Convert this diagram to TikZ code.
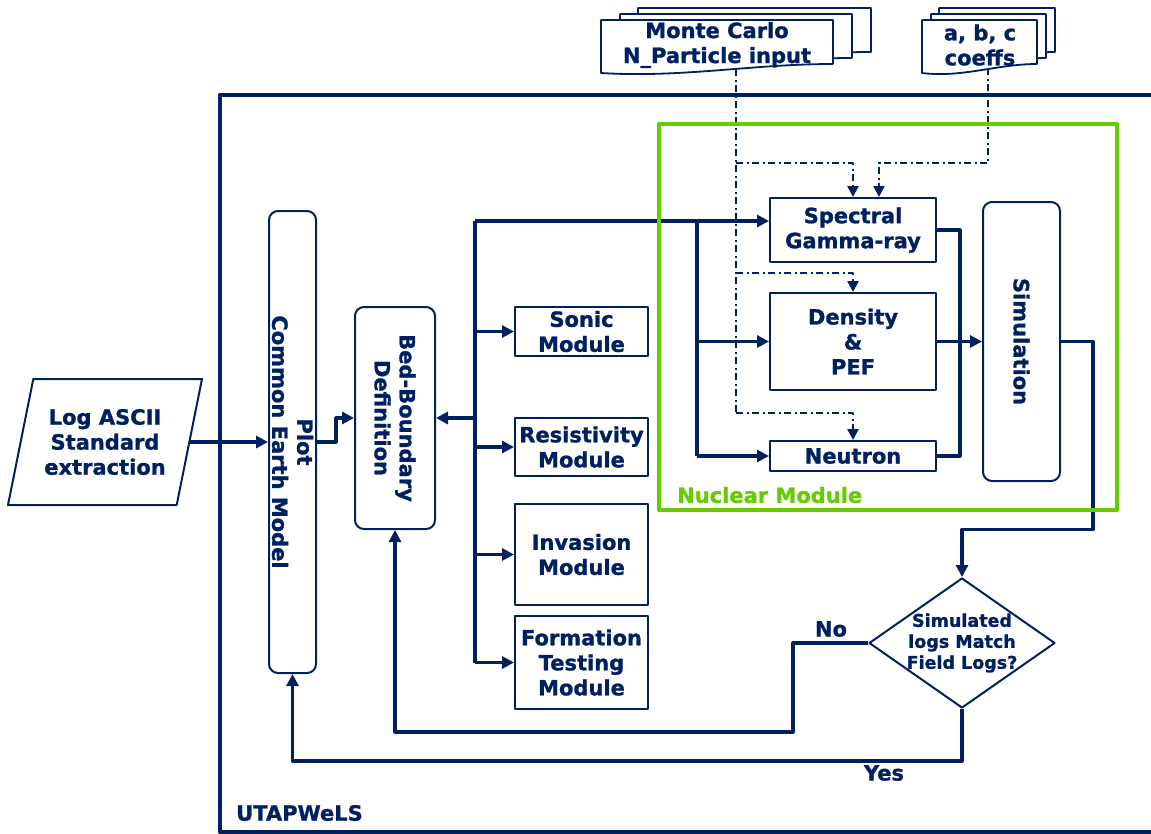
\documentclass[tikz,border=0pt]{standalone}
\usepackage{fontspec}
\setsansfont{DejaVu Sans}[BoldFeatures={FakeBold=1.2}]
\usetikzlibrary{shapes.geometric,arrows.meta}
\definecolor{navy}{HTML}{002060}
\definecolor{nucgreen}{HTML}{66CC00}
\begin{document}
\begin{tikzpicture}[x=1pt, y=-1pt, line join=round, font=\sffamily\bfseries\fontsize{21}{25}\selectfont]
	\tikzset{
		box/.style={draw=navy, line width=2pt, fill=white, inner sep=0pt},
		rbox/.style={box, rounded corners=9pt},
		lbl/.style={text=navy, align=center, inner sep=0pt},
		wire/.style={draw=navy, line width=3.2pt},
		flow/.style={wire, -{Triangle[length=12pt,width=12pt]}},
		dotwire/.style={draw=navy, line width=2.4pt, dash pattern=on 7pt off 3.5pt on 2pt off 3.5pt},
		dotflow/.style={dotwire, -{Triangle[length=11pt,width=11pt]}},
		sheet/.style={draw=navy, line width=1.8pt, fill=white},
	}
	\useasboundingbox (0,0) rectangle (1151,833);
	
	% KHUNG UTAPWeLS
	\draw[navy, line width=4.5pt] (1160,95) -- (220,95) -- (220,832) -- (1160,832);
	\node[lbl, anchor=west] (utap) at (236,813) {UTAPWeLS};
	
	% TAI LIEU DAU VAO
	\foreach \xa/\ya/\xb/\yb in {638/8/871/52, 620/14/852/58, 601/20/833/64,
		939/8/1055/52, 931/14/1046/58, 922/20/1037/64} {
		\draw[sheet] (\xa,\ya) -- (\xb,\ya) -- (\xb,\yb)
			.. controls ({\xb-0.35*(\xb-\xa)},\yb) and ({\xa+0.35*(\xb-\xa)},\yb+14) .. (\xa,\yb+9) -- cycle;
	}
	\node[lbl] (mc) at (717,45) {Monte Carlo\\N\_Particle input};
	\node[lbl] (abc) at (980,45) {a, b, c\\coeffs};
	\coordinate (mcS) at (736,69);
	\coordinate (abcS) at (988,68);
	
	% CAC HOP
	\node[box, lbl, shape=trapezium, trapezium left angle=72, trapezium right angle=108,
		trapezium stretches=true, minimum width=194pt, minimum height=126pt] (log) at (105,442)
		{Log ASCII\\Standard\\extraction};
	\node[rbox, minimum width=47pt, minimum height=462pt] (plot) at (292.5,442) {};
	\node[lbl, rotate=-90] (plottxt) at (plot) {Plot\\Common Earth Model};
	\node[rbox, minimum width=80pt, minimum height=222pt] (bed) at (395,418) {};
	\node[lbl, rotate=-90] (bedtxt) at (bed) {Bed-Boundary\\Definition};
	
	\node[box, lbl, minimum width=133pt, minimum height=49pt] (sonic) at (581.5,331.5) {Sonic\\Module};
	\node[box, lbl, minimum width=133pt, minimum height=58pt] (resist) at (581.5,447) {Resistivity\\Module};
	\node[box, lbl, minimum width=133pt, minimum height=101pt] (invas) at (581.5,554.5) {Invasion\\Module};
	\node[box, lbl, minimum width=133pt, minimum height=93pt] (formt) at (581.5,662.5) {Formation\\Testing\\Module};
	
	\node[box, lbl, minimum width=166pt, minimum height=64pt] (sgr) at (853,230) {Spectral\\Gamma-ray};
	\node[box, lbl, minimum width=166pt, minimum height=97pt] (dens) at (853,341.5) {Density\\\&\\PEF};
	\node[box, lbl, minimum width=166pt, minimum height=30pt] (neut) at (853,456) {Neutron};
	\node[rbox, minimum width=77pt, minimum height=279pt] (sim) at (1021.5,341.5) {};
	\node[lbl, rotate=-90] (simtxt) at (sim) {Simulation};
	
	\node[box, shape=diamond, minimum width=186pt, minimum height=130pt] (match) at (962,643) {};
	\node[lbl, font=\sffamily\bfseries\fontsize{17.5}{21}\selectfont] (matchtxt) at (match) {Simulated\\logs Match\\Field Logs?};
	
	% DUONG NOI
	\draw[flow] (log.right side) -- (log.right side -| plot.west);
	\draw[flow] (plot.east) -- ++(19,0) |- (bed.west);
	
	\coordinate (busT) at (475,221);
	\draw[wire] (busT) -- (busT |- formt);
	\draw[flow] (busT) -- (busT -| sgr.west);
	\draw[flow] (busT |- bed) -- (bed.east);
	\foreach \m in {sonic, resist, invas, formt}
		\draw[flow] (busT |- \m) -- (\m.west);
	
	\coordinate (nbT) at (697,221);
	\draw[wire] (nbT) -- (nbT |- neut);
	\draw[flow] (nbT |- dens) -- (dens.west);
	\draw[flow] (nbT |- neut) -- (neut.west);
	
	\draw[wire] (sgr.east) -- ++(23,0) |- (neut.east);
	\draw[flow] (dens.east) -- (sim.west);
	\draw[flow] (sim.east) -- ++(32,0) -- ++(0,188) -| (match.north);
	
	\draw[flow] (match.west) -- ++(-75,0) -- ++(0,89) -| (bed.south);
	\draw[flow] (match.south) -- ++(0,52) -| (plot.south);
	\node[lbl] (no) at (831,629) {No};
	\node[lbl] (yes) at (884,773) {Yes};
	
	% NET CHAM GACH
	\coordinate (mcA) at (736,163);
	\coordinate (mcB) at (736,273);
	\coordinate (mcC) at (736,413);
	\coordinate (abcA) at (988,163);
	\draw[dotwire] (mcS) -- (mcC);
	\draw[dotflow] (mcA) -| (sgr.north);
	\draw[dotflow] (mcB) -| (dens.north);
	\draw[dotflow] (mcC) -| (neut.north);
	\draw[dotflow] (abcS) -- (abcA) -| ([xshift=26pt]sgr.north);
	
	% KHUNG NUCLEAR MODULE
	\draw[nucgreen, line width=4.5pt] (659,124) rectangle (1117,510);
	\node[lbl, anchor=west, text=nucgreen] (nuc) at (677,495) {Nuclear Module};
\end{tikzpicture}
\end{document}
